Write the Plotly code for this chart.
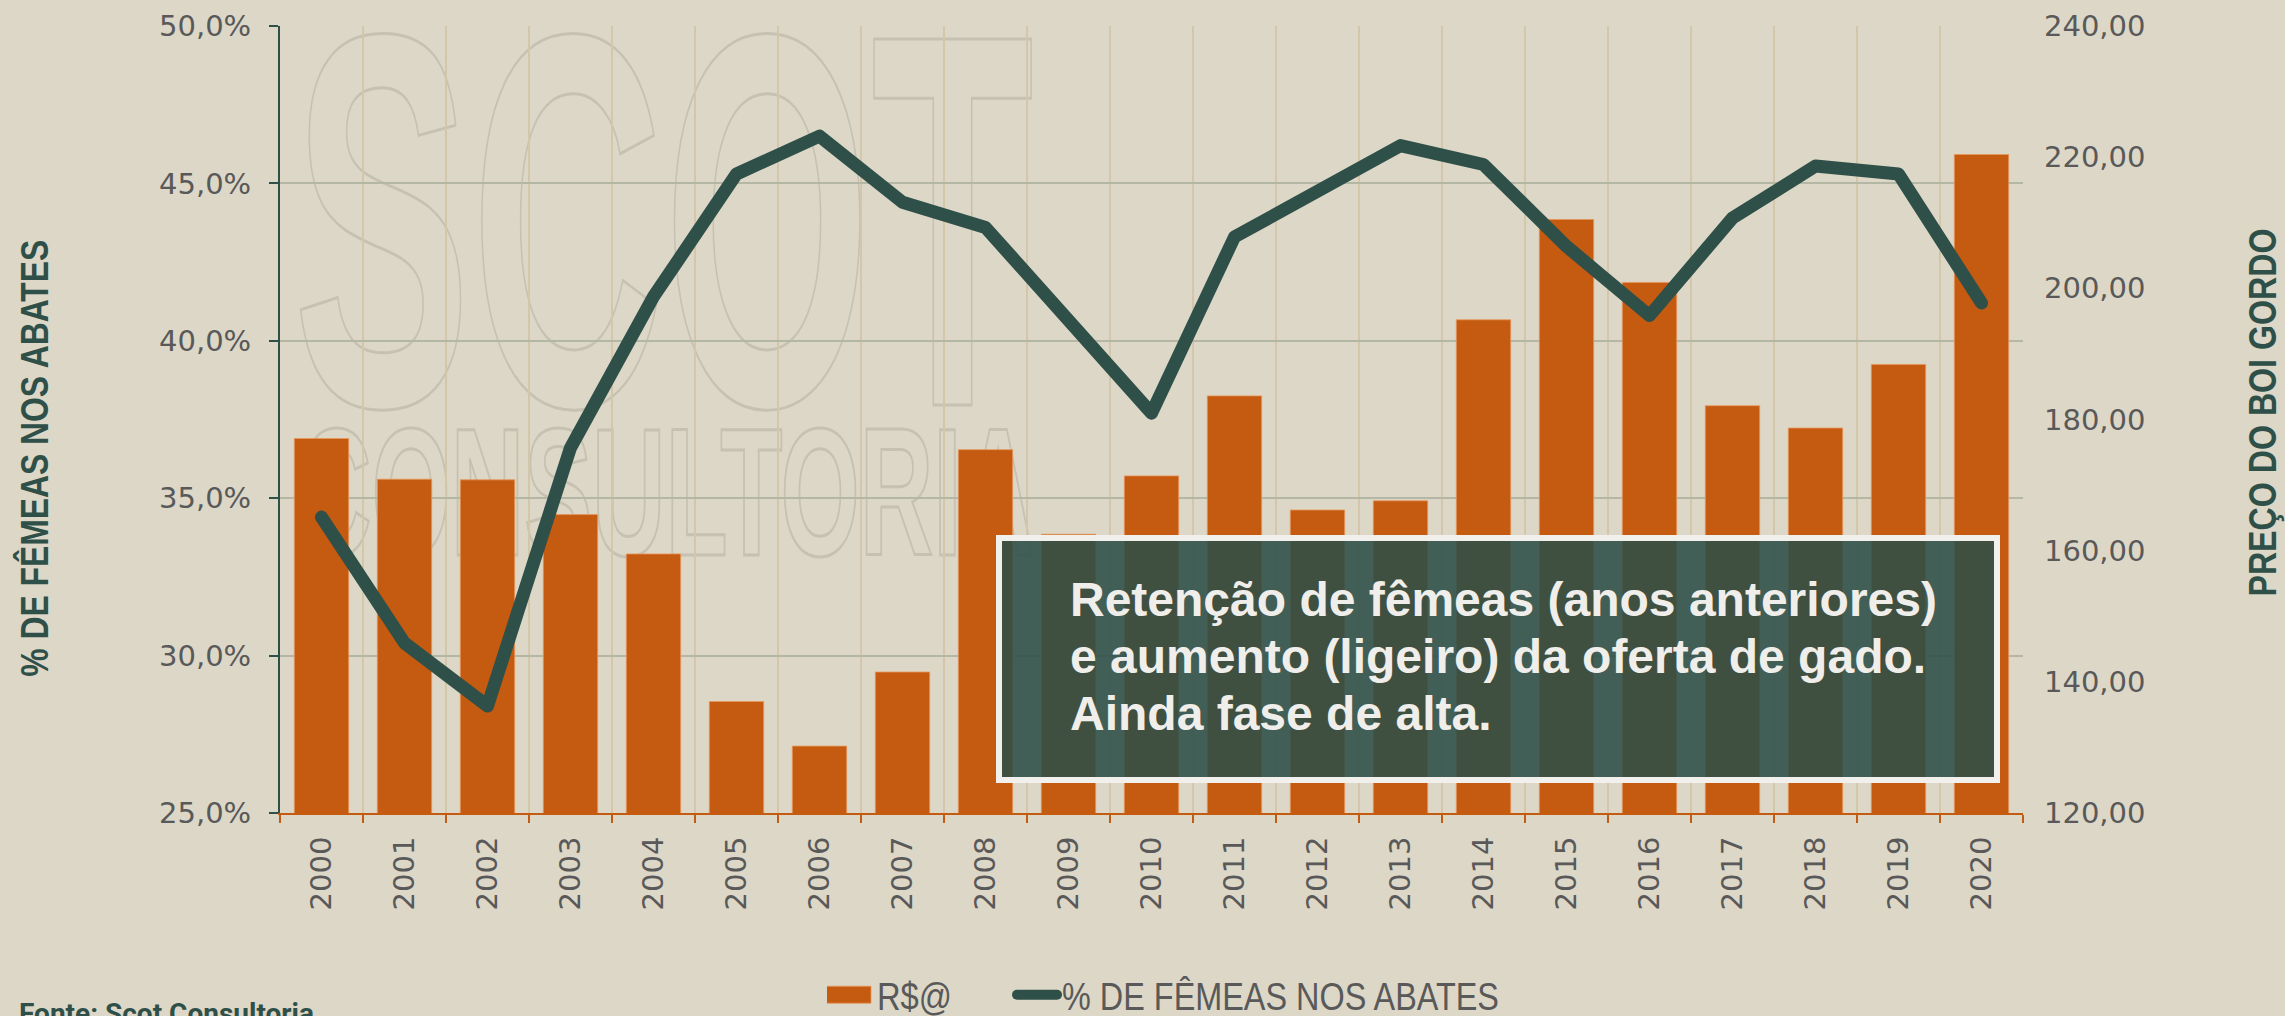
import json
import plotly.graph_objects as go

# ---------------- data ----------------
anos = [str(a) for a in range(2000, 2021)]
preco_arroba = [177.1, 170.9, 170.8, 165.5, 159.5, 137.0, 130.2, 141.5, 175.4, 162.5,
                171.4, 183.6, 166.2, 167.6, 195.2, 210.5, 200.9, 182.1, 178.7, 188.4, 220.4]
femeas_pct = [34.4, 30.4, 28.4, 36.6, 41.4, 45.3, 46.5, 44.4, 43.6, 40.6,
              37.7, 43.3, 44.7, 46.2, 45.6, 43.0, 40.8, 43.9, 45.55, 45.3, 41.2]

nome_barras = "R$@"
nome_linha = "% DE FÊMEAS NOS ABATES"
titulo_esq = "% DE FÊMEAS NOS ABATES"
titulo_dir = "PREÇO DO BOI GORDO"
fonte_txt = "Fonte: Scot Consultoria"
caixa_linhas = ["Retenção de fêmeas (anos anteriores)",
                "e aumento (ligeiro) da oferta de gado.",
                "Ainda fase de alta."]
marca_dagua = ["SCOT", "CONSULTORIA"]

# ---------------- style ----------------
BG = "#ddd7c7"
ORANGE = "#c55a11"
GREEN = "#2f5049"
TICK = "#595959"
W, H = 2285, 1016
L, R, T, B = 280, 262, 26, 203
PW, PH = W - L - R, H - T - B
NARROW = "Liberation Sans Narrow, Arial Narrow, Liberation Sans, Arial, sans-serif"
SANS = "Liberation Sans, Arial, sans-serif"
TICKFONT = dict(family="DejaVu Sans, Verdana, sans-serif", size=29, color=TICK)
LEGFONT = dict(family=NARROW, size=38, color=TICK)


def px(x):
    return (x - L) / PW


def py(y):
    return (H - B - y) / PH


fig = go.Figure()
fig.add_trace(go.Bar(
    x=anos, y=preco_arroba, name=nome_barras, yaxis="y", legend="legend",
    marker=dict(color=ORANGE, line=dict(color="rgba(232,150,90,0.8)", width=1)),
))
fig.add_trace(go.Scatter(
    x=anos, y=femeas_pct, name=nome_linha, yaxis="y2", mode="lines", legend="legend2",
    line=dict(color=GREEN, width=13),
))

shapes = []
# watermark (outlined text, drawn below the traces)
shapes.append(dict(type="rect", xref="paper", yref="paper", layer="below",
                   x0=px(293), x1=px(1034), y0=py(361), y1=py(-20),
                   line=dict(width=0), fillcolor="rgba(0,0,0,0)",
                   label=dict(text=marca_dagua[0], textposition="middle center",
                              font=dict(family=SANS, size=532, color="#c9c4b3", weight="bold"))))
shapes.append(dict(type="rect", xref="paper", yref="paper", layer="below",
                   x0=px(298), x1=px(1035), y0=py(544), y1=py(405),
                   line=dict(width=0), fillcolor="rgba(0,0,0,0)",
                   label=dict(text=marca_dagua[1], textposition="middle center",
                              font=dict(family=SANS, size=181, color="#c9c4b3", weight="bold"))))
# comment box
shapes.append(dict(type="rect", xref="paper", yref="paper", layer="above",
                   x0=px(999), x1=px(1997), y0=py(780), y1=py(538),
                   line=dict(color="#f2f0ec", width=6),
                   fillcolor="rgba(44,78,72,0.88)"))

annotations = []
for i, linha in enumerate(caixa_linhas):
    annotations.append(dict(
        text=linha, xref="paper", yref="paper", x=px(1068), y=py(599 + 57 * i),
        xanchor="left", yanchor="middle", showarrow=False,
        font=dict(family=SANS, size=48, color="#f0eeea", weight="bold")))
annotations.append(dict(
    text=titulo_esq, xref="paper", yref="paper", x=px(34), y=py(458),
    xanchor="center", yanchor="middle", textangle=-90, showarrow=False,
    font=dict(family=NARROW, size=38, color=GREEN, weight="bold")))
annotations.append(dict(
    text=titulo_dir, xref="paper", yref="paper", x=px(2263), y=py(413),
    xanchor="center", yanchor="middle", textangle=-90, showarrow=False,
    font=dict(family=NARROW, size=38, color=GREEN, weight="bold")))
annotations.append(dict(
    text=fonte_txt, xref="paper", yref="paper", x=px(17), y=py(995),
    xanchor="left", yanchor="top", showarrow=False,
    font=dict(family="Roboto, sans-serif", size=28, color=GREEN, weight="bold")))

fig.update_layout(
    width=W, height=H,
    margin=dict(l=L, r=R, t=T, b=B, pad=0, autoexpand=False),
    paper_bgcolor=BG, plot_bgcolor="rgba(0,0,0,0)",
    separators=",.",
    bargap=0.345,
    showlegend=True,
    legend=dict(orientation="h", x=px(827), xanchor="left", y=py(995), yanchor="middle",
                font=LEGFONT, bgcolor="rgba(0,0,0,0)", itemwidth=40),
    legend2=dict(orientation="h", x=px(1012), xanchor="left", y=py(995), yanchor="middle",
                 font=LEGFONT, bgcolor="rgba(0,0,0,0)", itemwidth=40),
    xaxis=dict(type="category", tickson="boundaries", showgrid=True,
               gridcolor="#d3c6a9", gridwidth=2,
               showline=True, linecolor=ORANGE, linewidth=2,
               ticks="outside", ticklen=8, tickcolor=ORANGE, tickwidth=2,
               tickangle=-90, tickfont=TICKFONT, ticklabelstandoff=10),
    yaxis=dict(side="right", range=[120, 240], dtick=20, tickformat=".2f",
               showgrid=False, zeroline=False,
               showline=False, ticks="", tickfont=TICKFONT, ticklabelstandoff=20),
    yaxis2=dict(overlaying="y", side="left", range=[25, 50], dtick=5, tickformat=".1f",
                ticksuffix="%", showgrid=True, gridcolor="#b5b7a5", gridwidth=2,
                zeroline=False,
                showline=True, linecolor=GREEN, linewidth=2,
                ticks="outside", ticklen=9, tickcolor=GREEN, tickwidth=2,
                tickfont=TICKFONT, ticklabelstandoff=12),
    shapes=shapes,
    annotations=annotations,
)

# target text lengths (px) to emulate the condensed typefaces of the original
comprimidos = {
    marca_dagua[0]: 741,
    marca_dagua[1]: 737,
    titulo_esq: 437,
    titulo_dir: 368,
}
legenda_len = {nome_barras: 75, nome_linha: 433}
contornados = json.dumps(marca_dagua)

post = """
document.body.style.margin = '0';
var gd = document.getElementById('{plot_id}');
var LENS = %s;
var LEGL = %s;
var OUTL = %s;
function fixStyles(){
  gd.querySelectorAll('text').forEach(function(t){
    var s = t.textContent;
    var isLegend = t.classList.contains('legendtext');
    if (OUTL.indexOf(s) >= 0) {
      t.style.fill = 'none';
      t.style.stroke = '#c6c1b0';
      t.style.strokeWidth = '3px';
    }
    var table = isLegend ? LEGL : LENS;
    if (table.hasOwnProperty(s)) {
      t.setAttribute('textLength', String(table[s]));
      t.setAttribute('lengthAdjust', 'spacingAndGlyphs');
    }
  });
  gd.querySelectorAll('.js-line').forEach(function(p){
    p.style.strokeLinecap = 'round';
    p.style.strokeLinejoin = 'round';
  });
  gd.querySelectorAll('.legendpoints path').forEach(function(p){
    var d = p.getAttribute('d') || '';
    if (d.indexOf('M6,6H-6V-6H6Z') === 0) {
      p.setAttribute('d', 'M19,8.5H-33V-8.5H19Z');
    } else if (d.indexOf('M5,0h30') === 0) {
      p.setAttribute('d', 'M-3,0h40');
      p.style.strokeWidth = '15px';
    }
  });
}
fixStyles();
if (gd.on) { gd.on('plotly_afterplot', fixStyles); }
""" % (json.dumps(comprimidos), json.dumps(legenda_len), contornados)

fig.write_html("out.html", post_script=post, config={"displayModeBar": False})
